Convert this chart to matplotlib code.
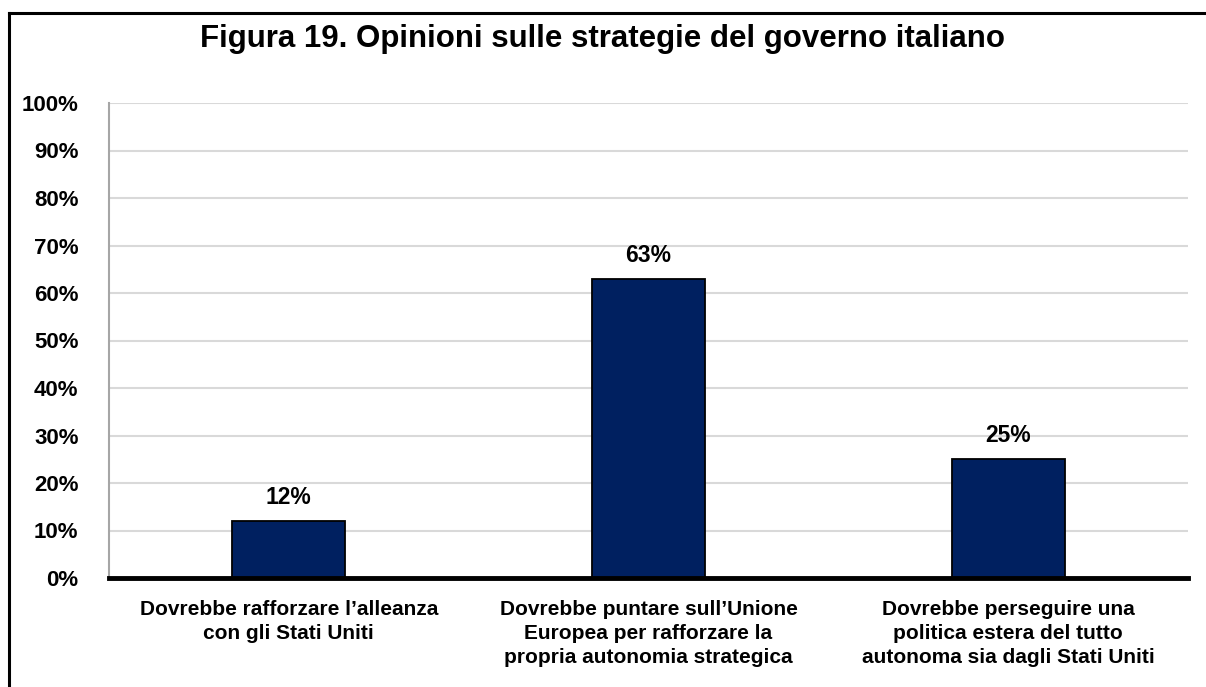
#!/usr/bin/env python3

import numpy as np
from matplotlib import pyplot as plt
from matplotlib.lines import Line2D
from matplotlib.ticker import FuncFormatter

plt.rcParams['font.family'] = ['Liberation Sans', 'DejaVu Sans']
plt.rcParams['font.weight'] = 'bold'

titolo = 'Figura 19. Opinioni sulle strategie del governo italiano'
categorie = [
    'Dovrebbe rafforzare l\u2019alleanza\ncon gli Stati Uniti',
    'Dovrebbe puntare sull\u2019Unione\nEuropea per rafforzare la\npropria autonomia strategica',
    'Dovrebbe perseguire una\npolitica estera del tutto\nautonoma sia dagli Stati Uniti',
]
valori = [12, 63, 25]
yticks = list(range(0, 101, 10))

blu = '#002060'


def main():
    fig = plt.figure(figsize=(12.06, 6.87), dpi=100)
    W, H = 1206, 687
    ax = fig.add_axes([109 / W, 1 - 578 / H, (1188 - 109) / W, (578 - 103) / H])

    x = np.arange(len(categorie))
    ax.bar(x, valori, width=0.315, color=blu, edgecolor='black', linewidth=1.3, zorder=3)
    for xi, v in zip(x, valori):
        ax.text(xi, v + 5, f'{v}%', ha='center', va='center', fontsize=16.5, fontweight='bold')

    ax.set_xlim(-0.5, len(categorie) - 0.5)
    ax.set_ylim(0, 100)
    ax.set_yticks(yticks)
    ax.yaxis.set_major_formatter(FuncFormatter(lambda v, p: f'{v:.0f}%'))
    ax.set_xticks(x)
    ax.set_xticklabels(categorie, fontsize=15, fontweight='bold', linespacing=1.32)
    ax.tick_params(axis='x', length=0, pad=16)
    ax.tick_params(axis='y', length=0, pad=22, labelsize=16)
    for lab in ax.get_yticklabels():
        lab.set_fontweight('bold')

    ax.grid(axis='y', color='#d9d9d9', linewidth=1.5, zorder=0)
    ax.set_axisbelow(True)
    for s in ['top', 'right']:
        ax.spines[s].set_visible(False)
    ax.spines['left'].set_color('#a6a6a6')
    ax.spines['left'].set_linewidth(1.5)
    ax.spines['bottom'].set_color('black')
    ax.spines['bottom'].set_linewidth(3.5)
    ax.spines['bottom'].set_zorder(4)

    # cornice del grafico (solo lato sinistro e superiore visibili)
    fig.add_artist(Line2D([9 / W, 1], [1 - 13 / H, 1 - 13 / H], color='black', linewidth=2.2))
    fig.add_artist(Line2D([9 / W, 9 / W], [0, 1 - 13 / H], color='black', linewidth=2.2))

    fig.text(602 / W, 1 - 39 / H, titolo, ha='center', va='center', fontsize=22.5, fontweight='bold')

    plt.savefig('out.png', dpi=100)
    plt.clf()


if __name__ == '__main__':
    main()
